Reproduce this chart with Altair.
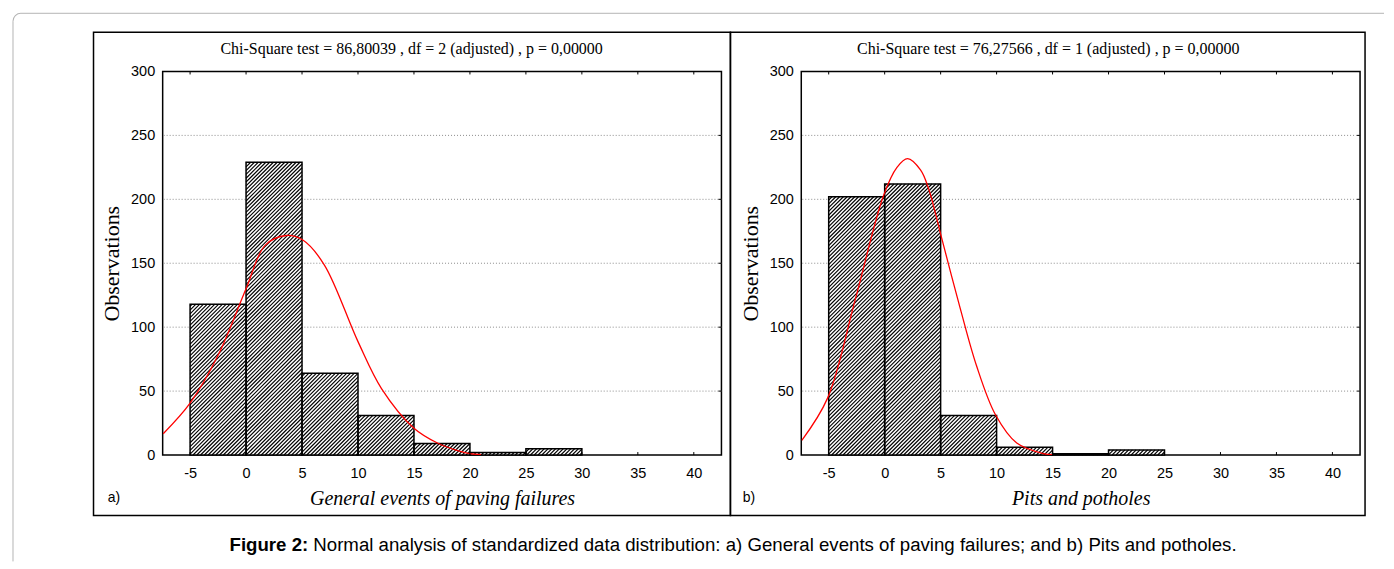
import math
import altair as alt
import pandas as pd

# ---------------- data ----------------
bins_a = [-5, 0, 5, 10, 15, 20, 25]
obs_a = [118, 229, 64, 31, 9, 2, 5]
bins_b = [-5, 0, 5, 10, 15, 20]
obs_b = [202, 212, 31, 6, 1, 4]
BIN_W = 5

curve_a_x = [-7.4, -5.0, -2.5, 0.0, 1.7, 3.6, 5.1, 7.0, 10.0, 12.1, 15.0, 17.1, 18.9, 20.0, 21.0]
curve_a_y = [16.7, 40.6, 78.0, 130.0, 164.0, 171.7, 168.0, 148.6, 88.7, 52.0, 21.0, 9.4, 3.4, 1.1, 0.3]
curve_b_x = [-7.4, -5.1, -2.6, -0.1, 1.1, 2.05, 3.2, 3.9, 5.1, 6.75, 8.2, 9.9, 11.8, 14.2, 15.0]
curve_b_y = [11.5, 44.5, 122.5, 203.0, 225.0, 231.8, 223.0, 209.0, 169.4, 114.7, 70.0, 31.5, 9.4, 1.1, 0.3]

x_tick_values = [-5, 0, 5, 10, 15, 20, 25, 30, 35, 40]
y_tick_values = [0, 50, 100, 150, 200, 250, 300]
grid_values = [50, 100, 150, 200, 250]

title_a = "Chi-Square test = 86,80039 , df = 2 (adjusted) , p = 0,00000"
title_b = "Chi-Square test = 76,27566 , df = 1 (adjusted) , p = 0,00000"
xlabel_a = "General events of paving failures"
xlabel_b = "Pits and potholes"
ylabel = "Observations"
tag_a = "a)"
tag_b = "b)"
caption_bold = "Figure 2:"
caption_rest = "Normal analysis of standardized data distribution: a) General events of paving failures; and b) Pits and potholes."

# ---------------- layout / style ----------------
W, H = 560, 384.4
XDOM = [-7.45, 42.47]
YDOM = [0, 300]
KX = W / (XDOM[1] - XDOM[0])
KY = H / (YDOM[1] - YDOM[0])
HATCH_STEP = 3.8
SERIF = "Liberation Serif"
SANS = "Liberation Sans"

xs = alt.Scale(domain=XDOM, nice=False, zero=False)
ys = alt.Scale(domain=YDOM, nice=False, zero=False)


def hatch_lines(bins, obs):
    rows = []
    for b, o in zip(bins, obs):
        u0, u1 = b * KX, (b + BIN_W) * KX
        h = o * KY
        c = math.ceil((u0 - h) / HATCH_STEP) * HATCH_STEP
        while c < u1:
            v0 = max(0.0, u0 - c)
            v1 = min(h, u1 - c)
            if v1 > v0:
                rows.append({"hx": (v0 + c) / KX, "hy": v0 / KY,
                             "hx2": (v1 + c) / KX, "hy2": v1 / KY})
            c += HATCH_STEP
    return pd.DataFrame(rows)


one = pd.DataFrame({"k": [0]})


def panel(bins, obs, cx, cy, title, xlabel, tag, frame_l, frame_r, title_x, tag_x, extra=None):
    bars = pd.DataFrame({"x0": bins, "x1": [b + BIN_W for b in bins], "obs": obs})
    curve = pd.DataFrame({"cx": cx, "cy": cy})
    grid = pd.DataFrame({"g": grid_values})
    xt = pd.DataFrame({"t": x_tick_values})

    xaxis = alt.Axis(values=x_tick_values, labelExpr="'' + datum.value", title=xlabel,
                     titleFont=SERIF, titleFontSize=20, titleFontStyle="italic",
                     titleFontWeight="normal", titleX=W / 2, titleY=49.3,
                     titleBaseline="alphabetic", labelPadding=11.5)
    yaxis = alt.Axis(values=y_tick_values, format="d", title=ylabel,
                     titleFont=SERIF, titleFontSize=22, titleFontWeight="normal",
                     titleX=-44, titleY=H / 2, titleBaseline="alphabetic",
                     titleAlign="center", labelPadding=8)

    grid_l = alt.Chart(grid).mark_rule(color="#8c8c8c", strokeDash=[1, 2], strokeWidth=1).encode(
        y=alt.Y("g:Q", scale=ys, axis=yaxis))
    bar_fill = alt.Chart(bars).mark_rect(fill="white", stroke=None).encode(
        x=alt.X("x0:Q", scale=xs, axis=xaxis), x2="x1:Q",
        y=alt.Y("obs:Q", scale=ys, axis=yaxis), y2=alt.datum(0))
    hatch = alt.Chart(hatch_lines(bins, obs)).mark_rule(color="black", strokeWidth=1.15).encode(
        x=alt.X("hx:Q", scale=xs), x2="hx2:Q", y=alt.Y("hy:Q", scale=ys), y2="hy2:Q")
    bar_out = alt.Chart(bars).mark_rect(fill=None, stroke="black", strokeWidth=1.5).encode(
        x=alt.X("x0:Q", scale=xs), x2="x1:Q", y=alt.Y("obs:Q", scale=ys), y2=alt.datum(0))
    line = alt.Chart(curve).mark_line(color="#ff0000", strokeWidth=1.3, interpolate="catmull-rom",
                                      clip=True).encode(
        x=alt.X("cx:Q", scale=xs), y=alt.Y("cy:Q", scale=ys))
    top_ticks = alt.Chart(xt).mark_rule(color="black", strokeWidth=1).encode(
        x=alt.X("t:Q", scale=xs), y=alt.value(0), y2=alt.value(3))
    bot_ticks = alt.Chart(xt).mark_rule(color="black", strokeWidth=1).encode(
        x=alt.X("t:Q", scale=xs), y=alt.value(H), y2=alt.value(H - 3))
    right_ticks = alt.Chart(grid).mark_rule(color="black", strokeWidth=1).encode(
        y=alt.Y("g:Q", scale=ys), x=alt.value(W), x2=alt.value(W - 3))
    ttl = alt.Chart(one).mark_text(text=title, font=SERIF, fontSize=16, align="center",
                                   baseline="alphabetic", color="black").encode(
        x=alt.value(title_x), y=alt.value(-17.6))
    tg = alt.Chart(one).mark_text(text=tag, font=SANS, fontSize=14, align="left",
                                  baseline="middle", color="black").encode(
        x=alt.value(tag_x), y=alt.value(427.7))
    frame = alt.Chart(one).mark_rect(fill=None, stroke="black", strokeWidth=1.5).encode(
        x=alt.value(frame_l), x2=alt.value(frame_r), y=alt.value(-39.3), y2=alt.value(H + 60.6))
    layers = [grid_l, bar_fill, hatch, bar_out, line, top_ticks, bot_ticks, right_ticks, ttl, tg, frame]
    if extra:
        layers += extra
    return alt.layer(*layers).properties(width=W, height=H)


# page card border and caption (drawn in the left panel's coordinates)
card_top = alt.Chart(one).mark_rule(color="#b4b4b4", strokeWidth=1).encode(
    x=alt.value(-142), x2=alt.value(1224), y=alt.value(-58.3))
card_left = alt.Chart(one).mark_rule(color="#b4b4b4", strokeWidth=1).encode(
    x=alt.value(-150), y=alt.value(-50.3), y2=alt.value(491))
card_corner = alt.Chart(one).mark_arc(color="#b4b4b4", radius=8.5, radius2=7.5,
                                      theta=4.712389, theta2=6.283185).encode(
    x=alt.value(-142), y=alt.value(-50.3))
cap_b = alt.Chart(one).mark_text(text=caption_bold, font=SANS, fontSize=18.7, fontWeight="bold",
                                 align="left", baseline="alphabetic", color="black").encode(
    x=alt.value(67), y=alt.value(480.5))
cap_r = alt.Chart(one).mark_text(text=caption_rest, font=SANS, fontSize=18.7,
                                 align="left", baseline="alphabetic", color="black").encode(
    x=alt.value(151), y=alt.value(480.5))

left = panel(bins_a, obs_a, curve_a_x, curve_a_y, title_a, xlabel_a, tag_a,
             -69.3, W + 9, 249.5, -55, [card_top, card_left, card_corner, cap_b, cap_r])
right = panel(bins_b, obs_b, curve_b_x, curve_b_y, title_b, xlabel_b, tag_b,
              -71, W + 5, 247.5, -58.7)

chart = alt.hconcat(left, right, spacing=80, bounds="flush").properties(
    padding={"left": 3, "top": 3, "right": 0, "bottom": 0},
    background="white",
).configure_view(stroke="black", strokeWidth=1.5).configure_axis(
    domain=False, ticks=False, grid=False,
    labelFont=SANS, labelFontSize=14.5, labelColor="black", titleColor="black",
)

chart.save("out.html", embed_options={"renderer": "svg", "actions": False})
